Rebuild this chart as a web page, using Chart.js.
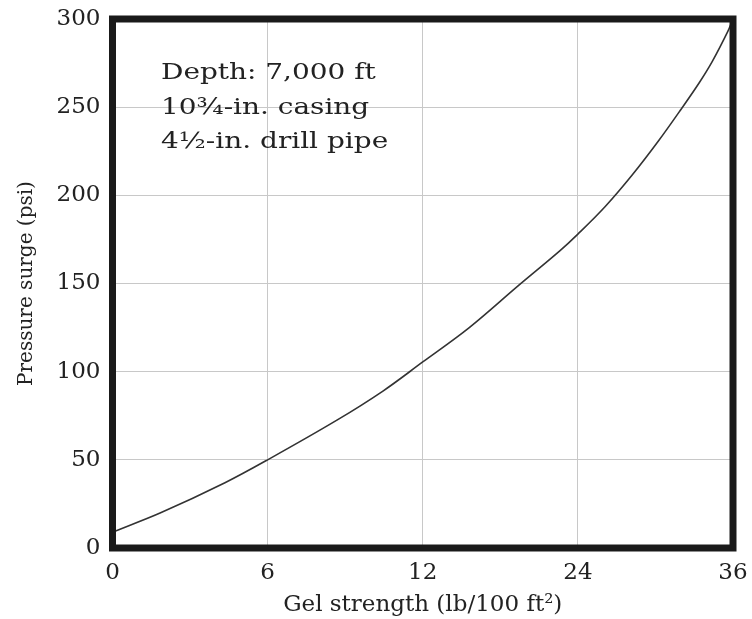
<!DOCTYPE html>
<html>
<head>
<meta charset="utf-8">
<script src="https://cdn.jsdelivr.net/npm/chart.js@4/dist/chart.umd.min.js"></script>
<style>
  html, body { margin: 0; padding: 0; background: #fff; }
  #wrap { width: 752px; height: 619px; }
</style>
</head>
<body>
<div id="wrap"><canvas id="c" width="752" height="619"></canvas></div>
<script>
// Gel strength tick labels (axis spacing is even between these labels)
const xTickValues = [0, 6, 12, 24, 36];
const yTicksMax = 300;
// Curve: gel strength (lb/100 ft²) vs pressure surge (psi)
const gelStrength = [0, 1.84, 4.35, 6, 8.68, 10.46, 12, 15.6, 19.35, 22.6, 24, 26.1, 28.2, 30.2, 32, 33.4, 34.4, 35.6, 36];
const pressureSurge = [9, 19.8, 37, 50, 72.5, 89, 105.5, 125, 148.5, 168.5, 178, 193.5, 211.5, 230.5, 249, 264, 276, 293, 300];
const noteLines = ['Depth: 7,000 ft', '10¾-in. casing', '4½-in. drill pipe'];

function gelToPos(g) {
  for (let i = 0; i < xTickValues.length - 1; i++) {
    const a = xTickValues[i], b = xTickValues[i + 1];
    if (g <= b || i === xTickValues.length - 2) return i + (g - a) / (b - a);
  }
  return 0;
}

const points = gelStrength.map((g, i) => ({ x: gelToPos(g), y: pressureSurge[i] }));

const FONT = 'DejaVu Serif';
const TEXT = '#222';

const frame = {
  id: 'frame',
  afterDraw(chart) {
    const { ctx, chartArea: a } = chart;
    ctx.save();
    ctx.strokeStyle = '#1a1a1a';
    ctx.lineWidth = 7;
    ctx.strokeRect(a.left, a.top, a.right - a.left, a.bottom - a.top);
    ctx.restore();
    ctx.save();
    ctx.fillStyle = TEXT;
    ctx.font = '22px "' + FONT + '"';
    ctx.textBaseline = 'middle';
    ctx.textAlign = 'left';
    const ys = [73, 108, 142];
    ctx.translate(161, 0);
    ctx.scale(1.27, 1);
    noteLines.forEach((t, i) => ctx.fillText(t, 0, ys[i]));
    ctx.restore();
  }
};

new Chart(document.getElementById('c'), {
  type: 'line',
  data: {
    datasets: [{
      data: points,
      borderColor: '#333',
      borderWidth: 1.6,
      pointRadius: 0,
      fill: false,
      tension: 0.35
    }]
  },
  options: {
    responsive: false,
    animation: false,
    devicePixelRatio: 1,
    layout: { padding: { left: 0, right: 19, top: 19, bottom: 0 } },
    plugins: { legend: { display: false }, tooltip: { enabled: false } },
    scales: {
      x: {
        type: 'linear',
        min: 0,
        max: xTickValues.length - 1,
        afterFit(s) { s.height = 71; s.paddingLeft = 0; s.paddingRight = 0; },
        ticks: {
          stepSize: 1,
          padding: 11,
          color: TEXT,
          font: { family: FONT, size: 23 },
          callback: (v) => (Number.isInteger(v) ? String(xTickValues[v]) : '')
        },
        grid: { color: '#c8c8c8', lineWidth: 1, drawTicks: false },
        border: { display: false },
        title: {
          display: true,
          text: 'Gel strength (lb/100 ft²)',
          color: TEXT,
          font: { family: FONT, size: 23 },
          padding: { top: 3, bottom: 0 }
        }
      },
      y: {
        min: 0,
        max: yTicksMax,
        afterFit(s) { s.width = 112.5; s.paddingTop = 0; s.paddingBottom = 0; },
        ticks: {
          stepSize: 50,
          padding: 12,
          color: TEXT,
          font: { family: FONT, size: 23 }
        },
        grid: { color: '#c8c8c8', lineWidth: 1, drawTicks: false },
        border: { display: false },
        title: {
          display: true,
          text: 'Pressure surge (psi)',
          color: TEXT,
          font: { family: FONT, size: 20 },
          padding: { top: 15, bottom: 0 }
        }
      }
    }
  },
  plugins: [frame]
});
</script>
</body>
</html>
